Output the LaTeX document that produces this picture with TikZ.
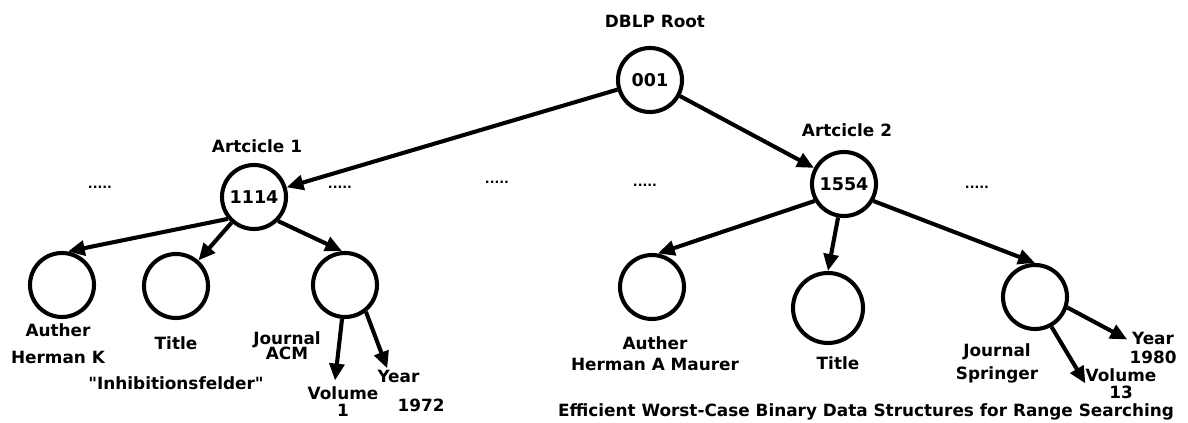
\documentclass[tikz,border=0pt]{standalone}
\usepackage{fontspec}
\setmainfont{DejaVu Sans}[Ligatures=TeXOff]
\usetikzlibrary{positioning,calc,arrows.meta}
\tikzstyle{vertex} = [circle, draw, line width=2.9pt, minimum size=1.6cm, inner sep=0pt, font=\fontsize{12.5}{13}\selectfont\bfseries]
\tikzstyle{tag} = [align=center, inner sep=0pt, font=\fontsize{12}{13}\selectfont\bfseries]
\tikzstyle{gap} = [inner sep=0pt, font=\fontsize{9}{10}\selectfont\bfseries]
\tikzstyle{arrow} = [line width=2.9pt, -{Triangle[length=12pt,width=10.5pt]}]

\begin{document}
\begin{tikzpicture}[node distance=2cm]
            \useasboundingbox (0,0) rectangle (29.7,-10.575);
            % root and articles
            \node (root) [vertex] at (16.25,-2) {001};
            \node (rootlbl) [tag, above of = root, xshift=0.125cm, yshift=-0.525cm] {DBLP Root};
            \node (art1) [vertex, below of = root, xshift=-9.9cm, yshift=-0.925cm] {1114};
            \node (art1lbl) [tag, above of = art1, xshift=0.075cm, yshift=-0.725cm] {Artcicle 1};
            \node (art2) [vertex, below of = root, xshift=4.85cm, yshift=-0.6cm] {1554};
            \node (art2lbl) [tag, above of = art2, xshift=0.075cm, yshift=-0.65cm] {Artcicle 2};
            % dots between articles
            \node (gap1) [gap, left of = art1, xshift=-1.85cm, yshift=0.25cm] {.....};
            \node (gap2) [gap, right of = art1, xshift=0.15cm, yshift=0.25cm] {.....};
            \node (gap3) [gap, right of = gap2, xshift=1.925cm, yshift=0.125cm] {.....};
            \node (gap4) [gap, right of = gap3, xshift=1.7cm, yshift=-0.075cm] {.....};
            \node (gap5) [gap, right of = art2, xshift=1.325cm, yshift=-0.075cm] {.....};
            % fields of article 1
            \node (auth1) [vertex, below of = art1, xshift=-4.8cm, yshift=-0.2cm] {};
            \node (title1) [vertex, below of = art1, xshift=-1.95cm, yshift=-0.225cm] {};
            \node (jour1) [vertex, below of = art1, xshift=2.275cm, yshift=-0.2cm] {};
            \node (auth1lbl) [tag, below of = auth1, xshift=-0.1cm, yshift=0.535cm] {Auther\\[6pt]Herman K};
            \node (title1lbl) [tag, below of = title1, yshift=0.575cm] {Title};
            \node (inhib) [tag, below of = title1, yshift=-0.425cm] {"Inhibitionsfelder"};
            \node (jour1lbl) [tag, below of = jour1, xshift=-1.45cm, yshift=0.49cm] {Journal\\[-2.4pt]ACM};
            \node (vol1) [tag, below of = jour1, xshift=-0.05cm, yshift=-0.915cm] {Volume\\[-1pt]1};
            \node (year1) [tag, align=left, below of = jour1, xshift=1.65cm, yshift=-0.65cm] {Year\\[7pt]\hspace*{0.5cm}1972};
            % fields of article 2
            \node (auth2) [vertex, below of = art2, xshift=-4.8cm, yshift=-0.575cm] {};
            \node (title2) [vertex, minimum size=1.75cm, below of = art2, xshift=-0.4cm, yshift=-1.1cm] {};
            \node (jour2) [vertex, below of = art2, xshift=4.775cm, yshift=-0.825cm] {};
            \node (auth2lbl) [tag, below of = auth2, xshift=0.075cm, yshift=0.335cm] {Auther\\[2pt]Herman A Maurer};
            \node (title2lbl) [tag, below of = title2, xshift=0.25cm, yshift=0.625cm] {Title};
            \node (jour2lbl) [tag, below of = jour2, xshift=-0.95cm, yshift=0.335cm] {Journal\\[3pt]Springer};
            \node (year2) [tag, right of = jour2, xshift=0.95cm, yshift=-1.2625cm] {Year\\[0.5pt]1980};
            \node (vol2) [tag, right of = jour2, xshift=0.15cm, yshift=-2.1625cm] {Volume\\[-1pt]13};
            \node (effic) [tag, below of = title2, xshift=0.95cm, yshift=-0.6cm] {Efficient Worst-Case Binary Data Structures for Range Searching};
            % connectors
            \draw [arrow] (root) -- (art1);
            \draw [arrow] (root) -- (art2);
            \draw [arrow] (art1.220) -- (auth1.80);
            \draw [arrow] (art1) -- (title1);
            \draw [arrow] (art1.-45) -- (jour1.95);
            \draw [arrow] (jour1.-95) -- ($(vol1.north)+(-0.2cm,0.15cm)$);
            \draw [arrow] (jour1.-52) -- ($(year1.north west)+(0.25cm,0.05cm)$);
            \draw [arrow] (art2.210) -- (auth2.80);
            \draw [arrow] (art2.-100) -- (title2.north);
            \draw [arrow] (art2.-30) -- (jour2.north);
            \draw [arrow] (jour2.-18) -- ($(year2.west)+(-0.05cm,0.2cm)$);
            \draw [arrow] (jour2.-61) -- (vol2.west);
        \end{tikzpicture}
\end{document}
